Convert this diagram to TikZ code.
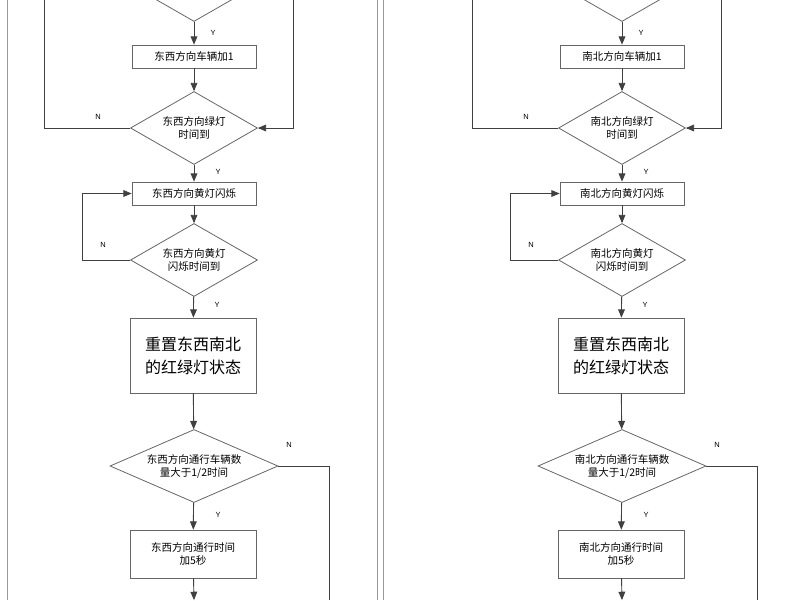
\documentclass[tikz,border=0pt]{standalone}
\usepackage{fontspec}
\setmainfont{Noto Sans CJK SC}
\setsansfont{Liberation Sans}
\usetikzlibrary{shapes.geometric, arrows, positioning}
\tikzset{
    >=triangle 45, % filled arrow heads
    line/.style={draw=black!75, line width=0.9pt},
    proc/.style={draw=black!60, line width=0.8pt, fill=white, inner sep=2pt, align=center, font=\fontsize{10.5}{13}\selectfont},
    test/.style={diamond, aspect=1.75, draw=black!60, line width=0.8pt, fill=white, inner sep=0pt, align=center, font=\fontsize{10.5}{13}\selectfont, minimum width=127pt, minimum height=73pt},
    yn/.style={font=\sffamily\fontsize{7.5}{8}\selectfont},
}

\begin{document}
\begin{tikzpicture}[x=1pt, y=-1pt]
    \useasboundingbox (0,0) rectangle (800,600);
    \clip (0,0) rectangle (800,600);
    \fill[white] (0,0) rectangle (800,600);
    % panel frames
    \draw[black!40, line width=0.8pt] (7,0) -- (7,600) (377,0) -- (377,600) (383,0) -- (383,600);
    \foreach \dx/\dir in {0/东西, 428/南北}{
        \begin{scope}[xshift=\dx]
            \node[test] (top) at (194,-15) {};
            \node[proc, minimum width=124pt, minimum height=23pt] (add) at (194,56.5) {\dir 方向车辆加1};
            \node[test] (green) at (194,128) {\dir 方向绿灯\\时间到};
            \node[proc, minimum width=124pt, minimum height=23pt] (yellow) at (194,193.5) {\dir 方向黄灯闪烁};
            \node[test] (yend) at (194,260) {\dir 方向黄灯\\闪烁时间到};
            \node[proc, minimum width=126pt, minimum height=75pt, font=\fontsize{16}{23}\selectfont] (reset) at (193,355.5) {重置东西南北\\的红绿灯状态};
            \node[test, aspect=2.3, minimum width=168pt] (count) at (194,466) {\dir 方向通行车辆数\\量大于1/2时间};
            \node[proc, minimum width=126pt, minimum height=48pt] (more) at (193,554) {\dir 方向通行时间\\加5秒};
            \coordinate (out) at (194,600);
            \draw[line, ->] (top) -- (add);
            \draw[line, ->] (add) -- (green);
            \draw[line, ->] (green) -- (yellow);
            \draw[line, ->] (yellow) -- (yend);
            \draw[line, ->] (yend) -- (reset);
            \draw[line, ->] (reset) -- (count);
            \draw[line, ->] (count) -- (more);
            \draw[line, ->] (more) -- (out);
            \draw[line] (green.west) -- (44,128) -- (44,0);
            \draw[line, ->] (293,0) -- (293,128) -- (green.east);
            \draw[line, ->] (yend.west) -- (82,260) -- (82,193.5) -- (yellow.west);
            \draw[line] (count.east) -- (329,466) -- (329,600);
            \node[yn] at (213,33) {Y};
            \node[yn] at (218,172) {Y};
            \node[yn] at (217,305) {Y};
            \node[yn] at (218,515) {Y};
            \node[yn] at (98,117) {N};
            \node[yn] at (103,245) {N};
            \node[yn] at (289,445) {N};
        \end{scope}
    }
\end{tikzpicture}
\end{document}
